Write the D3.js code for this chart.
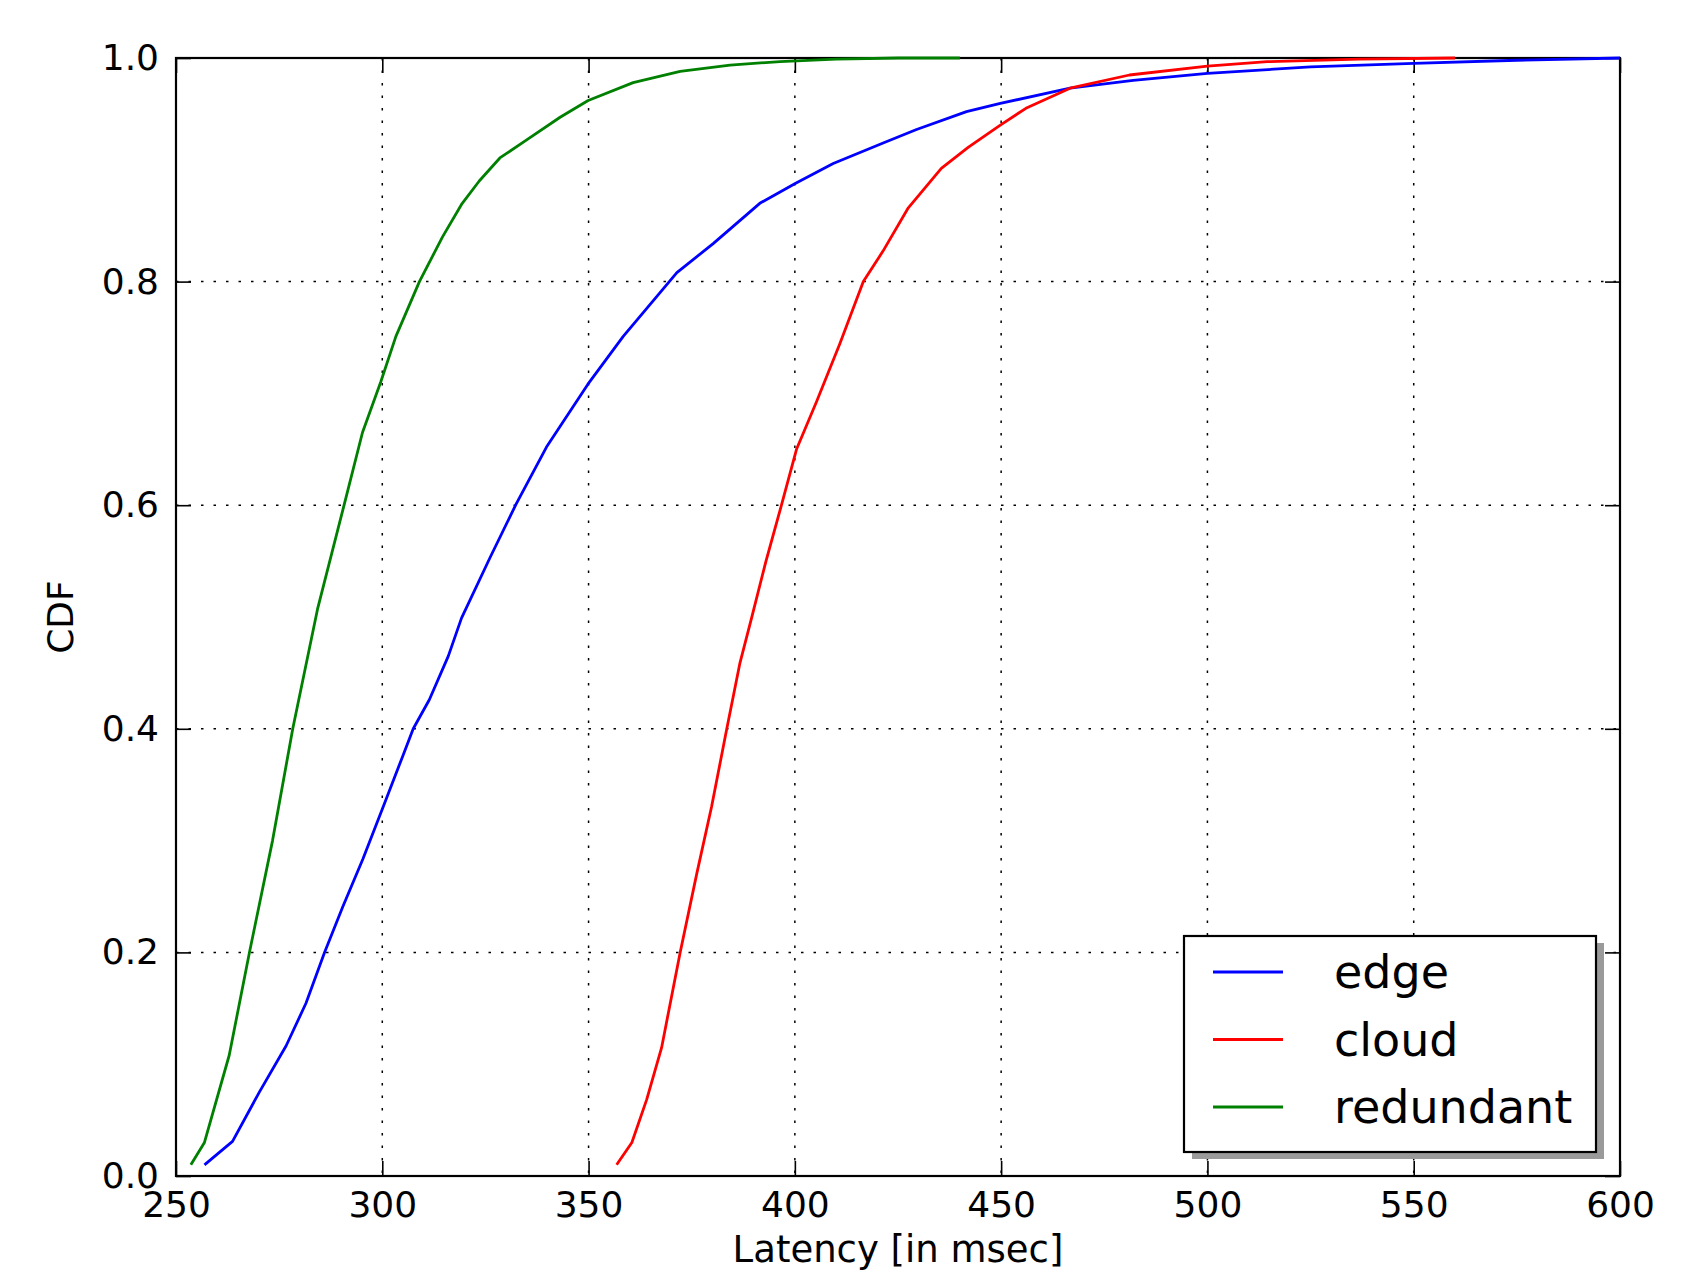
<!DOCTYPE html>
<html>
<head>
<meta charset="utf-8">
<script src="https://cdn.jsdelivr.net/npm/d3@7"></script>
<style>
    body { margin: 0; background: #ffffff; }
    text { font-family: "DejaVu Sans", sans-serif; fill: #000000; }
</style>
</head>
<body>
<div id="my_dataviz"></div>
<script>
// latency (msec) and cdf values
const edgeX = [256.9, 263.7, 270.2, 276.7, 281.5, 286.0, 290.4, 295.3, 300.2, 305.0, 307.5, 311.4, 316.0, 319.2, 326.1, 332.4, 339.8, 349.8, 358.4, 371.4, 380.2, 391.5, 400.2, 409.3, 421.4, 429.5, 441.6, 449.8, 466.7, 482.0, 500.0, 525.0, 550.0, 575.0, 600.0];
const edgeY = [0.01, 0.031, 0.075, 0.1165, 0.1545, 0.2, 0.2406, 0.2835, 0.33, 0.376, 0.4, 0.426, 0.465, 0.499, 0.553, 0.6007, 0.652, 0.708, 0.751, 0.808, 0.834, 0.87, 0.888, 0.9057, 0.924, 0.936, 0.952, 0.9594, 0.973, 0.98, 0.9863, 0.992, 0.9952, 0.998, 1.0];

const cloudX = [356.8, 360.5, 364.1, 367.7, 372.2, 376.2, 379.8, 383.5, 386.7, 389.5, 393.0, 396.8, 400.4, 405.3, 410.9, 416.6, 421.4, 427.5, 435.5, 442.0, 449.8, 456.0, 466.7, 481.1, 500.0, 514.5, 536.7, 560.0];
const cloudY = [0.01, 0.03, 0.0685, 0.1148, 0.2, 0.27, 0.33, 0.4, 0.459, 0.499, 0.55, 0.6007, 0.65, 0.693, 0.7445, 0.8, 0.8275, 0.866, 0.9013, 0.92, 0.94, 0.955, 0.973, 0.9848, 0.9928, 0.9967, 0.999, 1.0];

const redundantX = [253.6, 256.9, 262.9, 267.8, 273.4, 278.3, 284.3, 290.8, 295.2, 299.6, 303.3, 309.0, 314.6, 319.2, 323.5, 328.5, 335.0, 343.1, 349.9, 360.8, 372.2, 384.3, 396.4, 410.0, 425.0, 440.0];
const redundantY = [0.01, 0.03, 0.108, 0.2, 0.3, 0.4, 0.507, 0.601, 0.665, 0.71, 0.751, 0.8, 0.84, 0.869, 0.89, 0.9106, 0.9267, 0.947, 0.962, 0.978, 0.988, 0.9937, 0.9968, 0.999, 1.0, 1.0];

const seriesNames = ["edge", "cloud", "redundant"];
const seriesColors = ["#0000ff", "#ff0000", "#008000"];

const xTicks = [250, 300, 350, 400, 450, 500, 550, 600];
const yTicks = [0.0, 0.2, 0.4, 0.6, 0.8, 1.0];

const xLabel = "Latency [in msec]";
const yLabel = "CDF";

// set the dimensions of the page and the plot area
const pageWidth = 1687, pageHeight = 1274;
var margin = { top: 58, right: 67, bottom: 98, left: 176 },
    width = pageWidth - margin.left - margin.right,
    height = pageHeight - margin.top - margin.bottom;

const tickLen = 15;
const fontSize = 36;
const labelSize = 37;

var svg = d3.select("#my_dataviz")
    .append("svg")
    .attr("width", pageWidth)
    .attr("height", pageHeight)
    .append("g")
    .attr("transform", "translate(" + margin.left + "," + margin.top + ")");

var x = d3.scaleLinear().domain([250, 600]).range([0, width]);
var y = d3.scaleLinear().domain([0, 1]).range([height, 0]);

// dotted grid
svg.append("g")
    .selectAll("line")
    .data(xTicks.slice(1, -1))
    .enter()
    .append("line")
    .attr("x1", d => x(d)).attr("x2", d => x(d))
    .attr("y1", 0).attr("y2", height)
    .attr("stroke", "#000")
    .attr("stroke-width", 1.5)
    .attr("stroke-dasharray", "2.5,10");

svg.append("g")
    .selectAll("line")
    .data(yTicks.slice(1, -1))
    .enter()
    .append("line")
    .attr("x1", 0).attr("x2", width)
    .attr("y1", d => y(d)).attr("y2", d => y(d))
    .attr("stroke", "#000")
    .attr("stroke-width", 1.5)
    .attr("stroke-dasharray", "2.5,10");

// axes with ticks pointing inwards, on all four sides
function styleAxis(g) {
    g.select(".domain").remove();
    g.selectAll(".tick line").attr("stroke", "#000").attr("stroke-width", 1.6);
    g.selectAll(".tick text").attr("font-size", fontSize + "px").attr("font-family", "DejaVu Sans").attr("fill", "#000");
}

svg.append("g")
    .attr("transform", "translate(0," + height + ")")
    .call(d3.axisBottom(x).tickValues(xTicks).tickFormat(d3.format("d")).tickSizeInner(-tickLen).tickSizeOuter(0).tickPadding(15))
    .call(styleAxis)
    .selectAll(".tick text").attr("dy", "0.71em");

svg.append("g")
    .call(d3.axisTop(x).tickValues(xTicks).tickFormat("").tickSizeInner(-tickLen).tickSizeOuter(0))
    .call(styleAxis);

svg.append("g")
    .call(d3.axisLeft(y).tickValues(yTicks).tickFormat(d3.format(".1f")).tickSizeInner(-tickLen).tickSizeOuter(0).tickPadding(17))
    .call(styleAxis);

svg.append("g")
    .attr("transform", "translate(" + width + ",0)")
    .call(d3.axisRight(y).tickValues(yTicks).tickFormat("").tickSizeInner(-tickLen).tickSizeOuter(0))
    .call(styleAxis);

// frame
svg.append("rect")
    .attr("x", 0).attr("y", 0)
    .attr("width", width).attr("height", height)
    .attr("fill", "none")
    .attr("stroke", "#000")
    .attr("stroke-width", 2.2);

// the cdf lines
const series = [
    { name: seriesNames[0], xs: edgeX, ys: edgeY, color: seriesColors[0] },
    { name: seriesNames[1], xs: cloudX, ys: cloudY, color: seriesColors[1] },
    { name: seriesNames[2], xs: redundantX, ys: redundantY, color: seriesColors[2] }
];

var line = d3.line()
    .x(d => x(d[0]))
    .y(d => y(d[1]));

svg.selectAll(".cdf")
    .data(series)
    .enter()
    .append("path")
    .attr("class", "cdf")
    .attr("d", s => line(d3.zip(s.xs, s.ys)))
    .attr("fill", "none")
    .attr("stroke", s => s.color)
    .attr("stroke-width", 2.8)
    .attr("stroke-linejoin", "round");

// axis labels
svg.append("text")
    .attr("x", width / 2)
    .attr("y", height + 86)
    .attr("text-anchor", "middle")
    .attr("font-size", labelSize + "px")
    .text(xLabel);

svg.append("text")
    .attr("transform", "translate(" + (-103) + "," + (height / 2) + ") rotate(-90)")
    .attr("text-anchor", "middle")
    .attr("font-size", fontSize + "px")
    .text(yLabel);

// legend box with drop shadow (bottom right)
const legendW = 412, legendH = 216;
const lx = 1184 - margin.left, ly = 936 - margin.top;
const legend = svg.append("g").attr("transform", "translate(" + lx + "," + ly + ")");

legend.append("rect")
    .attr("x", 8).attr("y", 7)
    .attr("width", legendW).attr("height", legendH)
    .attr("fill", "#9a9a9a");

legend.append("rect")
    .attr("width", legendW).attr("height", legendH)
    .attr("fill", "#fff")
    .attr("stroke", "#000")
    .attr("stroke-width", 2.2);

const rowStep = 67.5;
legend.selectAll(".legend-line")
    .data(series)
    .enter()
    .append("line")
    .attr("x1", 29).attr("x2", 99)
    .attr("y1", (d, i) => 36 + i * rowStep)
    .attr("y2", (d, i) => 36 + i * rowStep)
    .attr("stroke", d => d.color)
    .attr("stroke-width", 3);

legend.selectAll(".legend-text")
    .data(series)
    .enter()
    .append("text")
    .attr("x", 150)
    .attr("y", (d, i) => 52 + i * rowStep)
    .attr("font-size", "46px")
    .text(d => d.name);
</script>
</body>
</html>
